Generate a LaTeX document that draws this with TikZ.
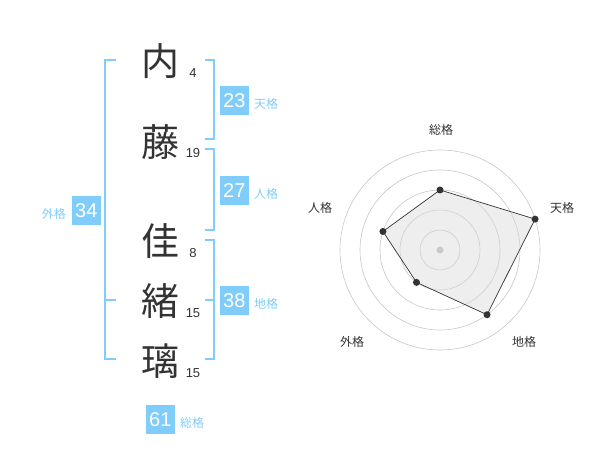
\documentclass[tikz,border=0pt]{standalone}
\usepackage{fontspec}
\setmainfont{Liberation Sans}
\newfontfamily\jp{Noto Sans CJK JP}
\usetikzlibrary{calc}
\definecolor{skyb}{RGB}{128,204,250}
\definecolor{ink}{RGB}{51,51,51}
\begin{document}
\begin{tikzpicture}[x=1pt,y=-1pt,
  kanji/.style={font=\jp\fontsize{38}{38}\selectfont, text=ink, inner sep=0pt},
  strokes/.style={font=\fontsize{13}{13}\selectfont, text=ink, inner sep=0pt},
  valbox/.style={fill=skyb, text=white, font=\fontsize{20}{20}\selectfont, minimum width=28.7pt, minimum height=28.7pt, inner sep=0pt},
  kakulabel/.style={font=\jp\fontsize{12}{12}\selectfont, text=skyb, inner sep=0pt},
  brk/.style={draw=skyb, line width=1.6pt},
  ring/.style={draw=black!22, line width=0.6pt},
  axislabel/.style={font=\jp\fontsize{12}{12}\selectfont, text=ink, inner sep=0pt},
  vdot/.style={circle, fill=ink, inner sep=0pt, minimum size=7pt}]
\useasboundingbox (0,0) rectangle (600,470);
% kanji
\node[kanji] (k1) at (160,61) {内};
\node[kanji] (k2) at (160,142) {藤};
\node[kanji] (k3) at (160,241) {佳};
\node[kanji] (k4) at (160,301) {緒};
\node[kanji] (k5) at (160,361) {璃};
\node[strokes] (s1) at (193,73) {4};
\node[strokes] (s2) at (193,153) {19};
\node[strokes] (s3) at (193,253) {8};
\node[strokes] (s4) at (193,313) {15};
\node[strokes] (s5) at (193,373) {15};
% brackets
\draw[brk] (116,60) -- (105,60) -- (105,359) -- (116,359);
\draw[brk] (105,300) -- (116,300);
\draw[brk] (205,60) -- (214,60) -- (214,139) -- (205,139);
\draw[brk] (205,149) -- (214,149) -- (214,230) -- (205,230);
\draw[brk] (205,240) -- (214,240) -- (214,359) -- (205,359);
\draw[brk] (205,300) -- (214,300);
% value boxes
\node[valbox] (ten) at (234.3,100.5) {23};
\node[kakulabel, anchor=west] (tenl) at (254,104) {天格};
\node[valbox] (jin) at (234.3,190.5) {27};
\node[kakulabel, anchor=west] (jinl) at (254,194) {人格};
\node[valbox] (gai) at (86.3,210.5) {34};
\node[kakulabel, anchor=east] (gail) at (66,214) {外格};
\node[valbox] (chi) at (234.3,300.5) {38};
\node[kakulabel, anchor=west] (chil) at (254,304) {地格};
\node[valbox] (sou) at (160.3,419.3) {61};
\node[kakulabel, anchor=west] (soul) at (180,423) {総格};
% radar
\coordinate (c) at (440,250);
\foreach \r in {20,40,60,80,100} \draw[ring] (c) circle[radius=\r];
\fill[black!25] (c) circle[radius=3.5];
\coordinate (pS) at ($(c)+(0,-60)$);
\path (c) ++(-18:100) coordinate (pT);
\path (c) ++(54:80) coordinate (pC);
\path (c) ++(126:40) coordinate (pG);
\path (c) ++(198:60) coordinate (pJ);
\filldraw[fill=black!15, fill opacity=0.45, draw=ink, line width=0.7pt] (pS) -- (pT) -- (pC) -- (pG) -- (pJ) -- cycle;
\foreach \p in {pS,pT,pC,pG,pJ} \node[vdot] at (\p) {};
\node[axislabel] (aS) at (441,130) {総格};
\node[axislabel] (aT) at (562,208) {天格};
\node[axislabel] (aC) at (524,342) {地格};
\node[axislabel] (aG) at (352,342) {外格};
\node[axislabel] (aJ) at (320,208) {人格};
\end{tikzpicture}
\end{document}
